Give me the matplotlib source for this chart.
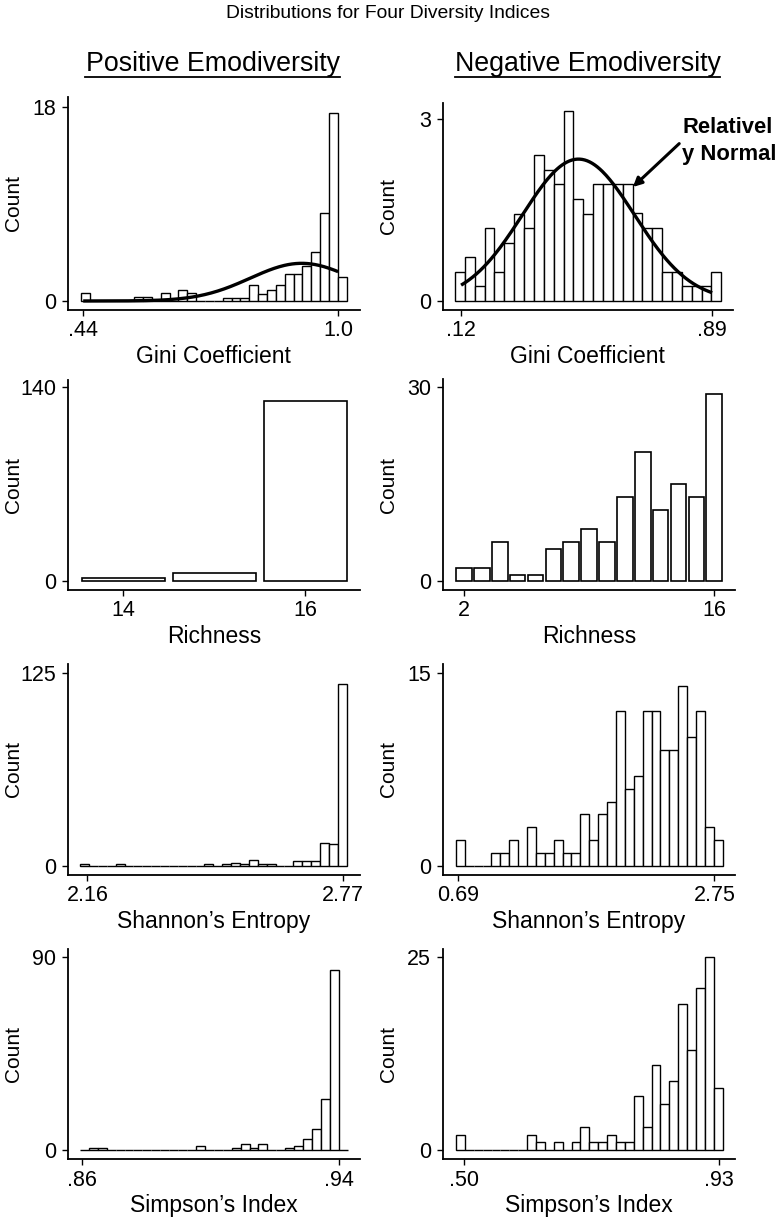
import numpy as np
import matplotlib
matplotlib.use('Agg')
import matplotlib.pyplot as plt
from matplotlib import font_manager
from matplotlib.lines import Line2D

# ---- data ----

gini_pos_range = (0.435, 1.019)
gini_pos_density = [0.74, 0, 0, 0, 0, 0, 0.37, 0.37, 0, 0.74, 0, 1.05, 0.74, 0, 0,
                    0, 0.28, 0.28, 0.28, 1.46, 0.68, 1.0, 1.46, 2.54, 2.54, 3.28,
                    4.52, 8.2, 17.5, 2.26]
gini_pos_mean, gini_pos_sd, gini_pos_peak = 0.92, 0.113, 3.5

gini_neg_range = (0.1015, 0.918)
gini_neg_density = [0.48, 0.73, 0.24, 1.20, 0.48, 0.96, 1.44, 1.20, 2.41, 2.16,
                    1.93, 3.13, 1.69, 1.44, 1.93, 1.93, 1.93, 1.93, 1.45, 1.20,
                    1.20, 0.48, 0.48, 0.25, 0.25, 0.25, 0.48]
gini_neg_mean, gini_neg_sd, gini_neg_peak = 0.48, 0.172, 2.34

richness_pos_values = [14, 15, 16]
richness_pos_counts = [2, 6, 130]

richness_neg_values = list(range(2, 17))
richness_neg_counts = [2, 2, 6, 1, 1, 5, 6, 8, 6, 13, 20, 11, 15, 13, 29]

shannon_pos_range = (2.1426, 2.778)
shannon_pos_counts = [1, 0, 0, 0, 1, 0, 0, 0, 0, 0, 0, 0, 0, 0, 1, 0, 1, 2, 1, 4,
                      1, 1, 0, 0, 3, 3, 3, 15, 14, 118]

shannon_neg_range = (0.671, 2.817)
shannon_neg_counts = [2, 0, 0, 0, 1, 1, 2, 0, 3, 1, 1, 2, 1, 1, 4, 2, 4, 5, 12, 6,
                      7, 12, 12, 9, 9, 14, 10, 12, 3, 2]

simpson_pos_range = (0.8593, 0.9426)
simpson_pos_counts = [0, 1, 1, 0, 0, 0, 0, 0, 0, 0, 0, 0, 0, 2, 0, 0, 0, 1, 3, 1,
                      3, 0, 0, 1, 2, 5, 10, 24, 84, 0]

simpson_neg_range = (0.4865, 0.9357)
simpson_neg_counts = [2, 0, 0, 0, 0, 0, 0, 0, 2, 1, 0, 1, 0, 1, 3, 1, 1, 2, 1, 1,
                      7, 3, 11, 6, 9, 19, 13, 21, 25, 8]

# ---- fonts ----

names = {f.name for f in font_manager.fontManager.ttflist}
NARROW = 'Liberation Sans Narrow' if 'Liberation Sans Narrow' in names else 'Liberation Sans'
plt.rcParams['font.family'] = [NARROW, 'DejaVu Sans']

W, H = 776, 1218
fig = plt.figure(figsize=(W / 100, H / 100), dpi=100)


def box(l, t, r, b):
    return [l / W, 1 - b / H, (r - l) / W, (b - t) / H]


def make_axes(rect_px, xlim, ylim, xticks, xticklabels, yticks, xlabel):
    l, t, r, b = rect_px
    ax = fig.add_axes(box(l, t, r, b))
    ax.set_xlim(xlim)
    ax.set_ylim(ylim)
    ax.spines['top'].set_visible(False)
    ax.spines['right'].set_visible(False)
    ax.spines['left'].set_linewidth(1.3)
    ax.spines['bottom'].set_linewidth(1.3)
    ax.set_xticks(xticks, xticklabels)
    ax.set_yticks(yticks, [str(v) for v in yticks])
    ax.tick_params(axis='both', length=4.5, width=1.0, labelsize=15.5)
    ax.tick_params(axis='x', pad=3)
    ax.tick_params(axis='y', pad=4)
    ax.set_xlabel(xlabel, fontsize=16.5, va='baseline')
    ax.xaxis.set_label_coords(0.5, -53 / (b - t))
    ax.set_ylabel('Count', fontsize=15, va='center')
    ax.yaxis.set_label_coords(-54 / (r - l), 0.5)
    return ax


def hist(ax, rng, heights):
    n = len(heights)
    edges = np.linspace(rng[0], rng[1], n + 1)
    ax.bar(edges[:-1], heights, width=edges[1] - edges[0], align='edge',
           facecolor='white', edgecolor='black', linewidth=1.0, zorder=2)


def normal_curve(ax, lo, hi, mean, sd, peak):
    xs = np.linspace(lo, hi, 200)
    ax.plot(xs, peak * np.exp(-0.5 * ((xs - mean) / sd) ** 2),
            color='black', linewidth=2.4, zorder=3, solid_capstyle='butt')


# row 1: Gini
ax = make_axes((67.7, 96.7, 360, 310), (0.406, 1.048), (-0.84, 18.99),
               [0.44, 1.0], ['.44', '1.0'], [0, 18], 'Gini Coefficient')
hist(ax, gini_pos_range, gini_pos_density)
normal_curve(ax, 0.44, 1.0, gini_pos_mean, gini_pos_sd, gini_pos_peak)

ax = make_axes((442.7, 102.7, 733, 310), (0.0636, 0.954), (-0.148, 3.27),
               [0.12, 0.89], ['.12', '.89'], [0, 3], 'Gini Coefficient')
hist(ax, gini_neg_range, gini_neg_density)
normal_curve(ax, 0.12, 0.89, gini_neg_mean, gini_neg_sd, gini_neg_peak)
ax.annotate('Relativel\ny Normal', xy=(0.647, 1.88), xytext=(682, H - 141),
            textcoords='figure pixels', ha='left', va='center',
            fontsize=15.8, fontweight='bold', family='Liberation Sans',
            linespacing=1.4, annotation_clip=False,
            arrowprops=dict(arrowstyle='-|>', color='black', lw=2.2,
                            mutation_scale=13, shrinkA=0, shrinkB=0,
                            relpos=(0.0, 0.5)))

# row 2: Richness
ax = make_axes((67.7, 380, 360, 590), (13.39, 16.6), (-6.5, 145.3),
               [14, 16], ['14', '16'], [0, 140], 'Richness')
ax.bar(richness_pos_values, richness_pos_counts, width=0.91,
       facecolor='white', edgecolor='black', linewidth=1.2, zorder=2)

ax = make_axes((442.7, 379.3, 735, 590), (0.81, 17.16), (-1.39, 31.24),
               [2, 16], ['2', '16'], [0, 30], 'Richness')
ax.bar(richness_neg_values, richness_neg_counts, width=0.87,
       facecolor='white', edgecolor='black', linewidth=1.2, zorder=2)

# row 3: Shannon
ax = make_axes((67.7, 664, 360, 875), (2.113, 2.810), (-5.84, 131.0),
               [2.16, 2.77], ['2.16', '2.77'], [0, 125], 'Shannon\u2019s Entropy')
hist(ax, shannon_pos_range, shannon_pos_counts)

ax = make_axes((442.7, 664, 735, 875), (0.565, 2.916), (-0.70, 15.67),
               [0.69, 2.75], ['0.69', '2.75'], [0, 15], 'Shannon\u2019s Entropy')
hist(ax, shannon_neg_range, shannon_neg_counts)

# row 4: Simpson
ax = make_axes((67.7, 949.3, 360, 1159.3), (0.8555, 0.9464), (-4.34, 93.7),
               [0.86, 0.94], ['.86', '.94'], [0, 90], 'Simpson\u2019s Index')
hist(ax, simpson_pos_range, simpson_pos_counts)

ax = make_axes((442.7, 949.3, 735, 1159.3), (0.464, 0.9564), (-1.21, 26.04),
               [0.50, 0.93], ['.50', '.93'], [0, 25], 'Simpson\u2019s Index')
hist(ax, simpson_neg_range, simpson_neg_counts)

# titles
fig.text(388 / W, 1 - 14 / H, 'Distributions for Four Diversity Indices',
         ha='center', va='center', fontsize=13.9)
for cx, label, (ul, ur) in [(212.5, 'Positive Emodiversity', (85, 340)),
                            (587.5, 'Negative Emodiversity', (455, 720))]:
    fig.text(cx / W, 1 - 71 / H, label, ha='center', va='baseline', fontsize=19.3)
    fig.add_artist(Line2D([ul / W, ur / W], [1 - 76.5 / H, 1 - 76.5 / H],
                          transform=fig.transFigure, color='black', linewidth=1.3))

fig.savefig('out.png', dpi=100)
